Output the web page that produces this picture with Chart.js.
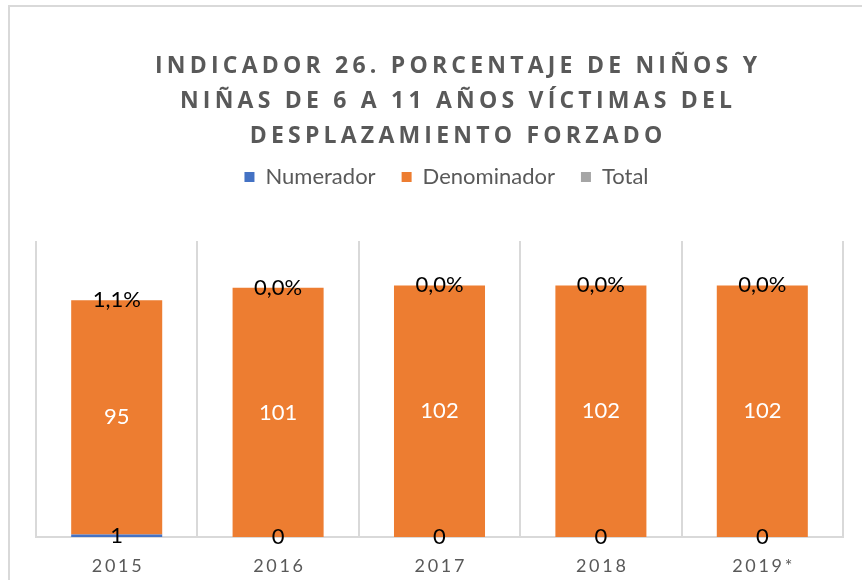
<!DOCTYPE html>
<html><head><meta charset="utf-8">
<script src="https://cdn.jsdelivr.net/npm/chart.js@4/dist/chart.umd.min.js"></script>
<style>
html,body{margin:0;padding:0;background:#fff;overflow:hidden;}
#wrap{position:relative;width:862px;height:580px;overflow:hidden;}
#frame{position:absolute;left:8px;top:5px;width:900px;height:640px;border:2px solid #d9d9d9;box-sizing:border-box;}
canvas{position:absolute;left:0;top:0;}
</style></head><body>
<div id="wrap"><div id="frame"></div><canvas id="c" width="862" height="580"></canvas></div>
<script>
const categories = ['2015', '2016', '2017', '2018', '2019*'];
const numerador = [1, 0, 0, 0, 0];
const denominador = [95, 101, 102, 102, 102];
const total = [0.011, 0, 0, 0, 0];
const titleLines = ['INDICADOR 26. PORCENTAJE DE NIÑOS Y', 'NIÑAS DE 6 A 11 AÑOS VÍCTIMAS DEL', 'DESPLAZAMIENTO FORZADO'];

const GRAY_TEXT = '#595959';
const GRID = '#d9d9d9';

function fmtPct(v) { return (v * 100).toFixed(1).replace('.', ',') + '%'; }

const decorPlugin = {
  id: 'decor',
  beforeInit(chart) {
    const lg = chart.legend;
    const orig = lg.fit.bind(lg);
    lg.fit = function () { orig(); this.height = 101; };
  },
  beforeDraw(chart) {
    const lg = chart.legend;
    lg.left = 50; lg.right = 843;
  },
  afterDatasetsDraw(chart) {
    const ctx = chart.ctx;
    ctx.save();
    ctx.font = '22px Lato';
    ctx.textAlign = 'center';
    ctx.textBaseline = 'middle';
    chart.data.datasets.forEach((ds, i) => {
      const meta = chart.getDatasetMeta(i);
      meta.data.forEach((bar, j) => {
        const p = bar.getProps(['x', 'y', 'base'], true);
        const v = ds.data[j];
        const txt = ds.isPct ? fmtPct(v) : String(v);
        ctx.fillStyle = ds.labelColor;
        ctx.fillText(txt, p.x, (p.y + p.base) / 2);
      });
    });
    ctx.restore();
  },
  afterDraw(chart) {
    const ctx = chart.ctx;
    ctx.save();
    // title
    ctx.font = '700 23px "Open Sans"';
    ctx.fillStyle = GRAY_TEXT;
    ctx.textAlign = 'left';
    ctx.textBaseline = 'alphabetic';
    ctx.letterSpacing = '0px';
    const w0 = ctx.measureText(titleLines[0]).width;
    const sp = Math.max(0, (602 - w0) / (titleLines[0].length - 1));
    ctx.letterSpacing = sp.toFixed(2) + 'px';
    const cx = 456;
    titleLines.forEach((t, k) => {
      const w = ctx.measureText(t).width - sp;
      ctx.fillText(t, cx - w / 2, 73 + k * 35);
    });
    // x tick labels
    ctx.font = '18px Lato';
    ctx.letterSpacing = '2.7px';
    ctx.textBaseline = 'middle';
    const xs = chart.scales.x;
    categories.forEach((c, j) => {
      const w = ctx.measureText(c).width - 2.7;
      ctx.fillText(c, xs.getPixelForValue(j) - w / 2, 566);
    });
    ctx.restore();
  }
};

new Chart(document.getElementById('c'), {
  type: 'bar',
  data: {
    labels: categories,
    datasets: [
      { label: 'Numerador', data: numerador, backgroundColor: '#4472C4', labelColor: '#000000', isPct: false },
      { label: 'Denominador', data: denominador, backgroundColor: '#ED7D31', labelColor: '#ffffff', isPct: false },
      { label: 'Total', data: total, backgroundColor: '#A5A5A5', labelColor: '#000000', isPct: true }
    ]
  },
  options: {
    responsive: false,
    animation: false,
    devicePixelRatio: 1,
    layout: { padding: { top: 140, left: 36, right: 19, bottom: 43 } },
    datasets: { bar: { categoryPercentage: 1, barPercentage: 0.564, borderWidth: 0 } },
    scales: {
      x: {
        stacked: true,
        offset: true,
        grid: { color: GRID, lineWidth: 2, drawTicks: false, offset: true },
        border: { color: GRID, width: 2 },
        ticks: { display: false }
      },
      y: { stacked: true, display: false, min: 0, max: 120 }
    },
    plugins: {
      title: { display: false },
      tooltip: { enabled: false },
      legend: {
        position: 'top',
        labels: { font: { family: 'Lato', size: 22 }, color: GRAY_TEXT, boxWidth: 10, boxHeight: 10, padding: 26 }
      }
    }
  },
  plugins: [decorPlugin]
});
</script>
</body></html>
